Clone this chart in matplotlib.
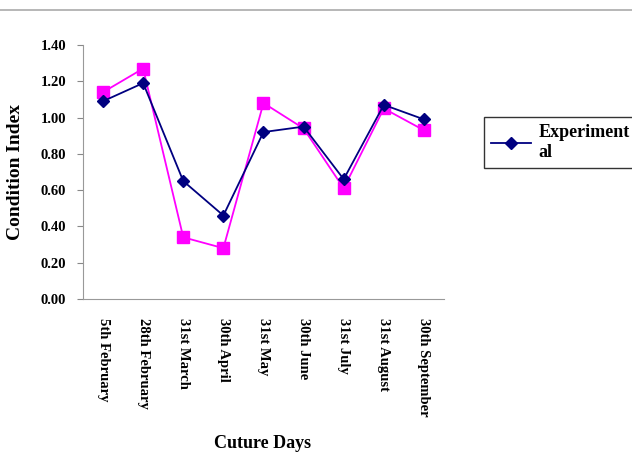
import numpy as np
import matplotlib.pyplot as plt
from matplotlib.lines import Line2D

plt.rcParams['font.family'] = ['Liberation Serif', 'DejaVu Serif']
plt.rcParams['font.weight'] = 'bold'

dias = ['5th February', '28th February', '31st March', '30th April', '31st May',
        '30th June', '31st July', '31st August', '30th September']
experimental = [1.09, 1.19, 0.65, 0.46, 0.92, 0.95, 0.66, 1.07, 0.99]
controle = [1.14, 1.27, 0.34, 0.28, 1.08, 0.94, 0.61, 1.05, 0.93]

fig = plt.figure(figsize=(6.32, 4.53), dpi=100)
ax = fig.add_axes([0.1313, 0.34, 0.5712, 0.5607])

x = np.arange(len(dias))
l1, = ax.plot(x, experimental, color='#000080', marker='D', markersize=6.5, lw=1.3, zorder=3)
ax.plot(x, controle, color='#FF00FF', marker='s', markersize=9, lw=1.3, zorder=2)

ax.set_xlim(-0.5, len(dias) - 0.5)
ax.set_ylim(0, 1.4)
ax.set_yticks(np.arange(0, 1.41, 0.2))
ax.set_yticklabels(['{:0.2f}'.format(v) for v in np.arange(0, 1.41, 0.2)], fontsize=10.5, fontweight='bold')
ax.set_xticks(x)
ax.set_xticklabels(dias, rotation=-90, fontsize=10.5, fontweight='bold', va='top', ha='center')
ax.tick_params(axis='x', length=0, pad=14)
ax.tick_params(axis='y', length=4, color='#888888', pad=8)

for s in ['top', 'right']:
    ax.spines[s].set_visible(False)
for s in ['left', 'bottom']:
    ax.spines[s].set_color('#999999')

ax.set_ylabel('Condition Index', fontsize=14, fontweight='bold', labelpad=12)
fig.text(0.416, 0.012, 'Cuture Days', fontsize=13, fontweight='bold', ha='center')

leg = fig.legend([l1], ['Experiment\nal'], loc='upper left', bbox_to_anchor=(0.766, 0.742),
                 frameon=True, fancybox=False, edgecolor='black', prop={'weight': 'bold', 'size': 13},
                 handlelength=2.2, handletextpad=0.4, borderpad=0.4, borderaxespad=0)
leg.get_frame().set_linewidth(1.0)

fig.add_artist(Line2D([0, 1], [0.978, 0.978], transform=fig.transFigure, color='#aaaaaa', lw=1.2))

plt.savefig('out.png', dpi=100)
